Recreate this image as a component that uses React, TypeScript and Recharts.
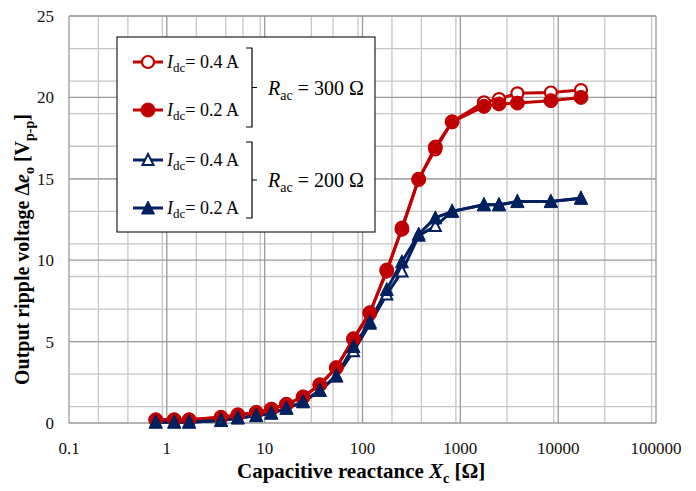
import { CartesianGrid, Line, LineChart, XAxis, YAxis } from "recharts";

// capacitive reactance Xc [ohm]
const reactance = [
    0.77, 1.19, 1.69, 3.58, 5.32, 8.2, 11.7, 16.7, 24.7, 36.6, 54, 81, 119, 177, 253, 375, 555, 824, 1743,
    2484, 3830, 8420, 17100,
];

// Rac = 300 ohm
const r300Idc04 = [
    0.2, 0.2, 0.2, 0.35, 0.5, 0.65, 0.85, 1.15, 1.6, 2.35, 3.4, 5.2, 6.8, 9.3, 12.0, 15.0, 16.8, 18.5, 19.7,
    19.9, 20.25, 20.3, 20.45,
];
const r300Idc02 = [
    0.2, 0.2, 0.2, 0.35, 0.5, 0.65, 0.85, 1.15, 1.6, 2.35, 3.4, 5.15, 6.75, 9.4, 11.9, 14.95, 16.95, 18.5,
    19.45, 19.6, 19.65, 19.8, 20.0,
];

// Rac = 200 ohm
const r200Idc04 = [
    0.05, 0.05, 0.05, 0.15, 0.3, 0.45, 0.6, 0.9, 1.3, 2.0, 2.85, 4.4, 6.1, 7.9, 9.3, 11.5, 12.1, 13.0, 13.4,
    13.4, 13.6, 13.6, 13.8,
];
const r200Idc02 = [
    0.05, 0.05, 0.05, 0.15, 0.3, 0.45, 0.6, 0.9, 1.3, 2.0, 2.9, 4.7, 6.2, 8.2, 9.9, 11.6, 12.6, 13.0, 13.4,
    13.4, 13.6, 13.6, 13.8,
];

const xTicks = [0.1, 1, 10, 100, 1000, 10000, 100000];
const yTicks = [0, 5, 10, 15, 20, 25];

const data = reactance.map((x, i) => ({
    x,
    a: r300Idc04[i],
    b: r300Idc02[i],
    c: r200Idc04[i],
    d: r200Idc02[i],
}));

// log minor grid: 2..9 in each decade
const xMinor = xTicks.slice(0, -1).flatMap((d) => [2, 3, 4, 5, 6, 7, 8, 9].map((k) => d * k));
const yMinor = Array.from({ length: 26 }, (_, i) => i);

const RED = "#c00000";
const BLUE = "#002060";
const SERIF = "Liberation Serif";

type MarkerProps = { cx?: number; cy?: number; kind: "circle" | "triangle"; color: string; open: boolean };

const Marker = ({ cx = 0, cy = 0, kind, color, open }: MarkerProps) => {
    if (kind === "circle") {
        return (
            <circle
                cx={cx}
                cy={cy}
                r={open ? 6 : 7}
                fill={open ? "#fff" : color}
                stroke={color}
                strokeWidth={open ? 2.2 : 1}
            />
        );
    }
    const h = open ? 10 : 12;
    const w = open ? 11 : 13;
    return (
        <polygon
            points={`${cx},${cy - h / 2 - 1} ${cx + w / 2},${cy + h / 2} ${cx - w / 2},${cy + h / 2}`}
            fill={open ? "#fff" : color}
            stroke={color}
            strokeWidth={open ? 2 : 1}
        />
    );
};

const dotFor = (kind: "circle" | "triangle", color: string, open: boolean) => (p: any) =>
    <Marker key={`${kind}-${open}-${p.index}`} cx={p.cx} cy={p.cy} kind={kind} color={color} open={open} />;

const XTick = (p: any) => (
    <text x={p.x} y={p.y} dy="0.71em" textAnchor="middle" fontSize={17} fill="#111" fontFamily={SERIF}>
        {String(p.payload.value)}
    </text>
);

const YTick = (p: any) => (
    <text x={p.x} y={p.y} dy="0.355em" textAnchor="end" fontSize={17} fill="#111" fontFamily={SERIF}>
        {String(p.payload.value)}
    </text>
);

const LegendRow = ({ y, kind, color, open, label }: { y: number; kind: "circle" | "triangle"; color: string; open: boolean; label: string }) => (
    <g>
        <line x1={133} x2={163} y1={y} y2={y} stroke={color} strokeWidth={3} />
        <Marker cx={148} cy={y} kind={kind} color={color} open={open} />
        <text x={167} y={y + 6} fontSize={18} fontFamily={SERIF} fill="#000">
            <tspan fontStyle="italic">I</tspan>
            <tspan fontSize={13} dy={4}>dc</tspan>
            <tspan dy={-4}>{`= ${label}`}</tspan>
        </text>
    </g>
);

const Bracket = ({ top, bottom, label }: { top: number; bottom: number; label: string }) => {
    const mid = (top + bottom) / 2;
    return (
        <g>
            <path
                d={`M246,${top} H252 V${bottom} H246 M252,${mid} H257`}
                fill="none"
                stroke="#000"
                strokeWidth={1.2}
            />
            <text x={268} y={mid + 7} fontSize={20} fontFamily={SERIF} fill="#000">
                <tspan fontStyle="italic">R</tspan>
                <tspan fontSize={14} dy={5}>ac</tspan>
                <tspan dy={-5}>{` = ${label}`}</tspan>
            </text>
        </g>
    );
};

export default function App() {
    return (
        <div
            style={{
                position: "absolute",
                left: 0,
                top: 0,
                width: 696,
                height: 491,
                background: "#fff",
                fontFamily: SERIF,
            }}
        >
            <LineChart width={696} height={491} data={data} margin={{ top: 16, right: 40, bottom: 38, left: 0 }}>
                <CartesianGrid stroke="#c6c6c6" strokeWidth={1.3} verticalValues={xMinor} horizontalValues={yMinor} />
                <CartesianGrid stroke="#9a9a9a" strokeWidth={1.3} verticalValues={xTicks} horizontalValues={yTicks} />
                <XAxis
                    dataKey="x"
                    type="number"
                    scale="log"
                    domain={[0.1, 100000]}
                    ticks={xTicks}
                    allowDataOverflow
                    axisLine={false}
                    tickLine={false}
                    tickSize={0}
                    tickMargin={19}
                    height={30}
                    tick={XTick}
                />
                <YAxis
                    type="number"
                    domain={[0, 25]}
                    ticks={yTicks}
                    axisLine={false}
                    tickLine={false}
                    tickSize={0}
                    tickMargin={15}
                    width={69}
                    tick={YTick}
                />
                <Line
                    dataKey="a"
                    stroke={RED}
                    strokeWidth={3}
                    dot={dotFor("circle", RED, true)}
                    activeDot={false}
                    isAnimationActive={false}
                />
                <Line
                    dataKey="b"
                    stroke={RED}
                    strokeWidth={3}
                    dot={dotFor("circle", RED, false)}
                    activeDot={false}
                    isAnimationActive={false}
                />
                <Line
                    dataKey="c"
                    stroke={BLUE}
                    strokeWidth={3}
                    dot={dotFor("triangle", BLUE, true)}
                    activeDot={false}
                    isAnimationActive={false}
                />
                <Line
                    dataKey="d"
                    stroke={BLUE}
                    strokeWidth={3}
                    dot={dotFor("triangle", BLUE, false)}
                    activeDot={false}
                    isAnimationActive={false}
                />
            </LineChart>

            <svg width={696} height={491} style={{ position: "absolute", left: 0, top: 0, pointerEvents: "none" }}>
                {/* legend */}
                <rect x={117} y={37} width={258} height={195} fill="#fff" stroke="#222" strokeWidth={1.2} />
                <LegendRow y={62} kind="circle" color={RED} open label="0.4 A" />
                <LegendRow y={110} kind="circle" color={RED} open={false} label="0.2 A" />
                <LegendRow y={160} kind="triangle" color={BLUE} open label="0.4 A" />
                <LegendRow y={208} kind="triangle" color={BLUE} open={false} label="0.2 A" />
                <Bracket top={48} bottom={127} label="300 Ω" />
                <Bracket top={142} bottom={218} label="200 Ω" />

                {/* axis titles */}
                <text x={237} y={478} fontSize={21} fontWeight={700} fill="#000" fontFamily={SERIF}>
                    Capacitive reactance{"  "}
                    <tspan fontStyle="italic">X</tspan>
                    <tspan fontSize={14} dy={5}>c</tspan>
                    <tspan dy={-5}> [Ω]</tspan>
                </text>
                <text
                    transform="translate(29,385) rotate(-90)"
                    fontSize={20}
                    fontWeight={700}
                    fill="#000"
                    fontFamily={SERIF}
                >
                    Output ripple voltage{"  "}Δ
                    <tspan fontStyle="italic">e</tspan>
                    <tspan fontSize={14} dy={5}>o</tspan>
                    <tspan dy={-5}> [V</tspan>
                    <tspan fontSize={14} dy={5}>p-p</tspan>
                    <tspan dy={-5}>]</tspan>
                </text>
            </svg>
        </div>
    );
}
